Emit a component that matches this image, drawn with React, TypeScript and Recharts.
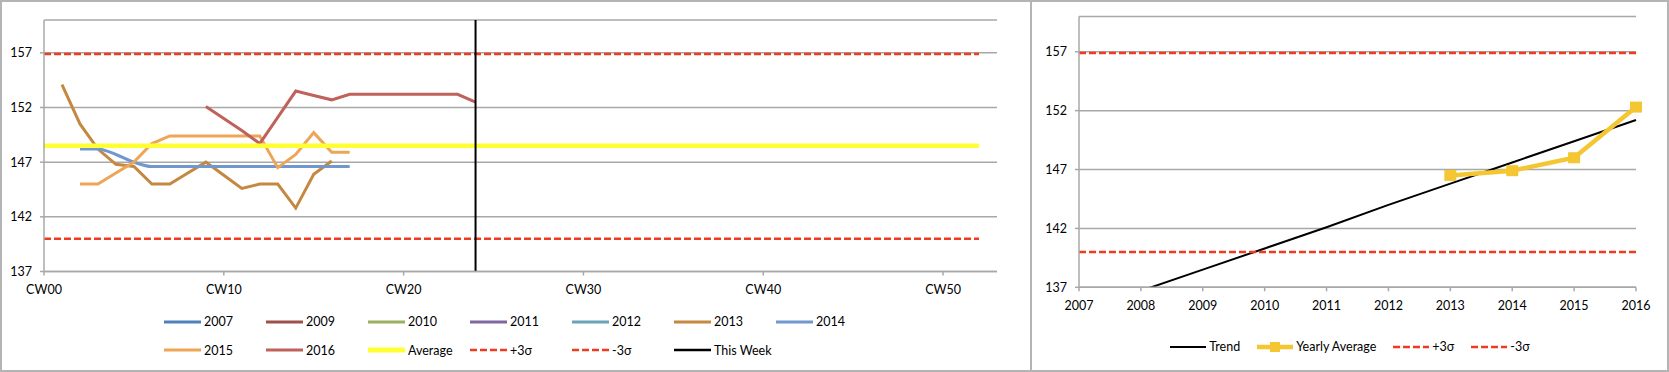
import { LineChart, Line, XAxis, YAxis, CartesianGrid, Legend } from "recharts";

// weekly readings per year, each array starts at its calendar week
const w2007: number[] = [];
const w2009: number[] = [];
const w2010: number[] = [];
const w2011: number[] = [];
const w2012: number[] = [];
const w2013 = [154.1, 150.5, 148.2, 146.8, 146.6, 145.0, 145.0, 146.0, 147.0, 145.8, 144.6, 145.0, 145.0, 142.8, 145.9, 147.1];
const w2014 = [148.2, 148.2, 147.7, 147.0, 146.6, 146.6, 146.6, 146.6, 146.6, 146.6, 146.6, 146.6, 146.6, 146.6, 146.6, 146.6];
const w2015 = [145.0, 145.0, 146.0, 147.0, 148.7, 149.4, 149.4, 149.4, 149.4, 149.4, 149.4, 146.5, 147.7, 149.7, 147.9, 147.9];
const w2016 = [152.1, 151.0, 149.9, 148.7, 151.1, 153.5, 153.1, 152.7, 153.2, 153.2, 153.2, 153.2, 153.2, 153.2, 153.2, 152.5];

const startWeek2013 = 1;
const startWeek2014 = 2;
const startWeek2015 = 2;
const startWeek2016 = 9;

// control limits
const AVERAGE = 148.5;
const PLUS_3S = 156.9;
const MINUS_3S = 140.0;
const LIMIT_WEEKS = [0, 52];
const THIS_WEEK = 24;

const Y_TICKS = [137, 142, 147, 152, 157];
const Y_DOMAIN = [137, 160];
const WEEK_TICKS = [0, 10, 20, 30, 40, 50];

// yearly view
const YEARS = [2007, 2008, 2009, 2010, 2011, 2012, 2013, 2014, 2015, 2016];
const TREND = [134.9, 136.7, 138.5, 140.3, 142.1, 144.0, 145.8, 147.6, 149.4, 151.2];
const AVG_YEARS = [2013, 2014, 2015, 2016];
const YEARLY_AVG = [146.5, 146.9, 148.0, 152.3];

const FONT = "Lato, 'Liberation Sans', sans-serif";
const FS = 12.5;
const GRID = "#a8a8a8";
const RED = "#ef3b1f";
const YEAR_GOLD = "#f4c631";

const toWeekly = (start: number, values: number[]) =>
  values.map((v, i) => ({ week: start + i, value: v }));
const flat = (v: number) => LIMIT_WEEKS.map((w) => ({ week: w, value: v }));

const weeklySeries = [
  { name: "2007", color: "#4f81bd", data: toWeekly(0, w2007) },
  { name: "2009", color: "#a0504a", data: toWeekly(0, w2009) },
  { name: "2010", color: "#9bb15f", data: toWeekly(0, w2010) },
  { name: "2011", color: "#7f68a0", data: toWeekly(0, w2011) },
  { name: "2012", color: "#6aa4b8", data: toWeekly(0, w2012) },
  { name: "2013", color: "#c48840", data: toWeekly(startWeek2013, w2013) },
  { name: "2014", color: "#7097cf", data: toWeekly(startWeek2014, w2014), smooth: true },
  { name: "2015", color: "#eda557", data: toWeekly(startWeek2015, w2015) },
  { name: "2016", color: "#bf625c", data: toWeekly(startWeek2016, w2016) },
];

const limitSeries = [
  { name: "Average", color: "#ffff33", width: 4.5, dash: undefined, data: flat(AVERAGE) },
  { name: "+3σ", color: RED, width: 2.5, dash: "7 3", data: flat(PLUS_3S) },
  { name: "-3σ", color: RED, width: 2.5, dash: "7 3", data: flat(MINUS_3S) },
  {
    name: "This Week",
    color: "#000",
    width: 2,
    dash: undefined,
    data: Y_DOMAIN.map((v) => ({ week: THIS_WEEK, value: v })),
  },
];

const leftLegend = [
  ...weeklySeries.map((s) => ({ name: s.name, color: s.color, width: 3, dash: undefined as string | undefined })),
  ...limitSeries.map((s) => ({ name: s.name, color: s.color, width: s.name === "Average" ? 5 : 2.5, dash: s.dash })),
];

const trendData = YEARS.map((y, i) => ({ year: y, value: TREND[i] }));
const yearlyData = AVG_YEARS.map((y, i) => ({ year: y, value: YEARLY_AVG[i] }));
const yearLimit = (v: number) => [YEARS[0], YEARS[YEARS.length - 1]].map((y) => ({ year: y, value: v }));

const cw = (w: number) => "CW" + String(w).padStart(2, "0");

const LeftLegend = () => (
  <div style={{ position: "relative", width: 1031, height: 66, fontFamily: FONT }}>
    {leftLegend.map((it, i) => {
      const col = i % 7;
      const row = Math.floor(i / 7);
      return (
        <div
          key={it.name}
          style={{
            position: "absolute",
            left: 164 + col * 102,
            top: row === 0 ? 15 : 43.5,
            height: 20,
            display: "flex",
            alignItems: "center",
          }}
        >
          <svg width={37} height={8}>
            <line x1={0} x2={37} y1={4} y2={4} stroke={it.color} strokeWidth={it.width} strokeDasharray={it.dash} />
          </svg>
          <span style={{ marginLeft: 3, fontSize: FS, color: "#000" }}>{it.name}</span>
        </div>
      );
    })}
  </div>
);

const rightLegend = [
  { name: "Trend", color: "#000", width: 2, dash: undefined as string | undefined, square: false },
  { name: "Yearly Average", color: YEAR_GOLD, width: 4.5, dash: undefined, square: true },
  { name: "+3σ", color: RED, width: 2.5, dash: "7 3", square: false },
  { name: "-3σ", color: RED, width: 2.5, dash: "7 3", square: false },
];

const RightLegend = () => (
  <div
    style={{
      position: "relative",
      width: 638,
      height: 40,
      fontFamily: FONT,
    }}
  >
    <div
      style={{
        position: "absolute",
        top: 24.7,
        left: 0,
        width: 638,
        height: 20,
        display: "flex",
        justifyContent: "center",
        alignItems: "center",
      }}
    >
      {rightLegend.map((it, i) => (
        <div key={it.name} style={{ display: "flex", alignItems: "center", marginRight: i < 3 ? 17 : 0 }}>
          <svg width={36} height={12}>
            <line x1={0} x2={36} y1={6} y2={6} stroke={it.color} strokeWidth={it.width} strokeDasharray={it.dash} />
            {it.square && <rect x={13} y={1} width={10} height={10} fill={it.color} />}
          </svg>
          <span style={{ marginLeft: 3, fontSize: FS, color: "#000" }}>{it.name}</span>
        </div>
      ))}
    </div>
  </div>
);

const SquareDot = (props: any) => {
  const { cx, cy, index } = props;
  if (cx == null || cy == null) return <g key={index} />;
  return <rect key={index} x={cx - 6} y={cy - 5.5} width={12} height={11} fill={YEAR_GOLD} />;
};

const tickStyle = { fill: "#000", fontSize: FS, fontFamily: FONT };

export default function App() {
  return (
    <div
      style={{
        position: "absolute",
        left: 0,
        top: 0,
        width: 1669,
        height: 372,
        background: "#fff",
        fontFamily: FONT,
      }}
    >
      <div
        style={{
          position: "absolute",
          left: 0,
          top: 0,
          width: 1032,
          height: 372,
          boxSizing: "border-box",
          border: "2px solid #b4b4b4",
        }}
      />
      <div
        style={{
          position: "absolute",
          left: 1030,
          top: 0,
          width: 639,
          height: 372,
          boxSizing: "border-box",
          border: "2px solid #b4b4b4",
        }}
      />

      <div style={{ position: "absolute", left: 0, top: 0 }}>
        <LineChart width={1031} height={372} margin={{ top: 20, right: 34, left: 0, bottom: 9.5 }}>
          <CartesianGrid vertical={false} stroke={GRID} strokeWidth={1.5} />
          <XAxis
            type="number"
            dataKey="week"
            domain={[0, 53]}
            ticks={WEEK_TICKS}
            tickFormatter={cw}
            allowDataOverflow
            height={25}
            stroke={GRID}
            strokeWidth={1.5}
            tickSize={4}
            tickMargin={10}
            tick={tickStyle}
          />
          <YAxis
            type="number"
            domain={Y_DOMAIN}
            ticks={Y_TICKS}
            allowDataOverflow
            width={44}
            stroke={GRID}
            strokeWidth={1.5}
            tickSize={4}
            tickMargin={8}
            tick={tickStyle}
          />
          {weeklySeries.map((s) => (
            <Line
              key={s.name}
              data={s.data}
              dataKey="value"
              name={s.name}
              type={s.smooth ? "monotone" : "linear"}
              stroke={s.color}
              strokeWidth={3}
              dot={false}
              activeDot={false}
              isAnimationActive={false}
            />
          ))}
          {limitSeries.map((s) => (
            <Line
              key={s.name}
              data={s.data}
              dataKey="value"
              name={s.name}
              type="linear"
              stroke={s.color}
              strokeWidth={s.width}
              strokeDasharray={s.dash}
              dot={false}
              activeDot={false}
              isAnimationActive={false}
            />
          ))}
          <Legend
            verticalAlign="bottom"
            content={() => <LeftLegend />}
            wrapperStyle={{ left: 0, top: 296.5, width: 1031, height: 66 }}
          />
        </LineChart>
      </div>

      <div style={{ position: "absolute", left: 1031, top: 0 }}>
        <LineChart width={638} height={372} margin={{ top: 16.4, right: 33, left: 0, bottom: 19.7 }}>
          <CartesianGrid vertical={false} stroke={GRID} strokeWidth={1.5} />
          <XAxis
            type="number"
            dataKey="year"
            domain={[YEARS[0], YEARS[YEARS.length - 1]]}
            ticks={YEARS}
            height={25}
            stroke={GRID}
            strokeWidth={1.5}
            tickSize={4}
            tickMargin={10}
            tick={tickStyle}
          />
          <YAxis
            type="number"
            domain={Y_DOMAIN}
            ticks={Y_TICKS}
            allowDataOverflow
            width={48}
            stroke={GRID}
            strokeWidth={1.5}
            tickSize={4}
            tickMargin={8}
            tick={tickStyle}
          />
          <Line
            data={trendData}
            dataKey="value"
            name="Trend"
            type="linear"
            stroke="#000"
            strokeWidth={2}
            dot={false}
            activeDot={false}
            isAnimationActive={false}
          />
          <Line
            data={yearlyData}
            dataKey="value"
            name="Yearly Average"
            type="linear"
            stroke={YEAR_GOLD}
            strokeWidth={4.5}
            dot={SquareDot}
            activeDot={false}
            isAnimationActive={false}
          />
          <Line
            data={yearLimit(PLUS_3S)}
            dataKey="value"
            name="+3σ"
            stroke={RED}
            strokeWidth={2.5}
            strokeDasharray="7 3"
            dot={false}
            activeDot={false}
            isAnimationActive={false}
          />
          <Line
            data={yearLimit(MINUS_3S)}
            dataKey="value"
            name="-3σ"
            stroke={RED}
            strokeWidth={2.5}
            strokeDasharray="7 3"
            dot={false}
            activeDot={false}
            isAnimationActive={false}
          />
          <Legend
            verticalAlign="bottom"
            content={() => <RightLegend />}
            wrapperStyle={{ left: 0, top: 312.3, width: 638, height: 40 }}
          />
        </LineChart>
      </div>
    </div>
  );
}
